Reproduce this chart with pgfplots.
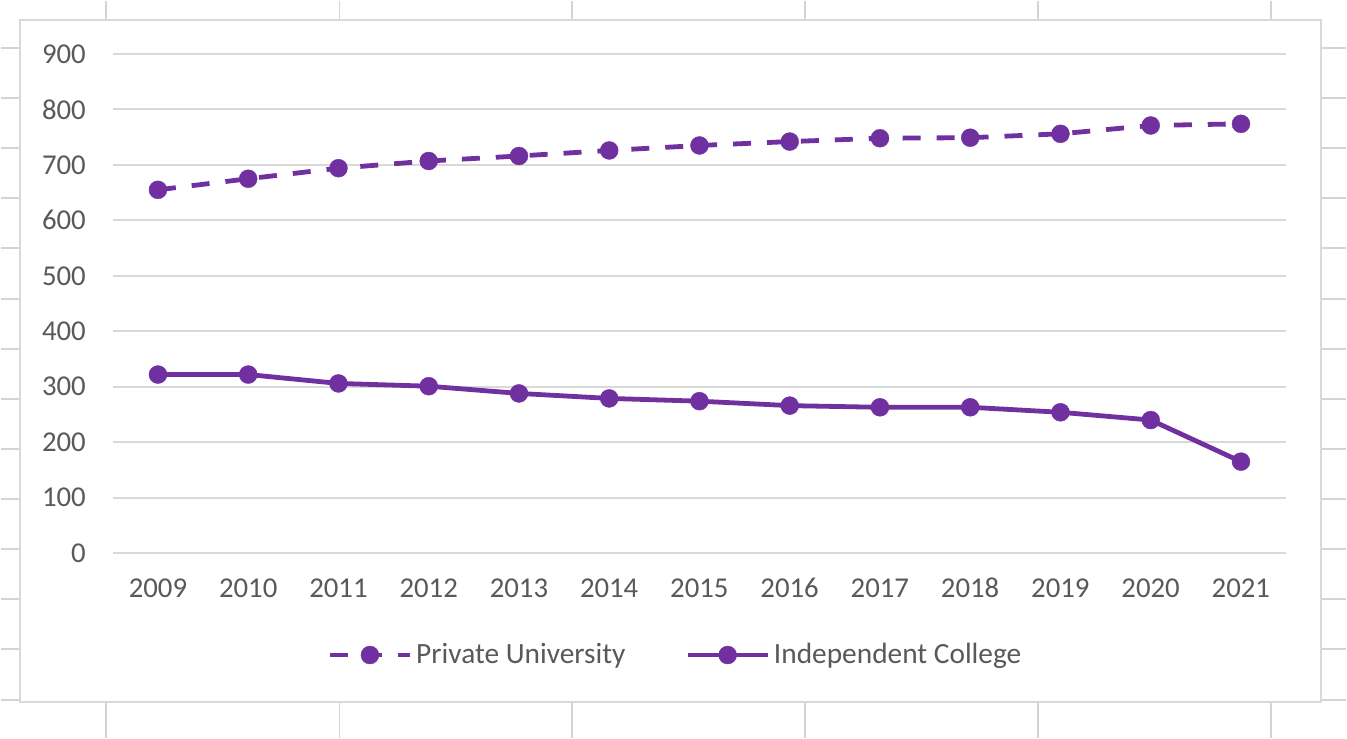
\documentclass[border=0pt]{standalone}
\usepackage{fontspec}
\setmainfont{Carlito}
\usepackage{pgfplots}
\pgfplotsset{compat=1.18}
\definecolor{uvpurple}{HTML}{7030A0}
\definecolor{gridgray}{HTML}{D9D9D9}
\definecolor{cellgray}{HTML}{D4D4D4}
\definecolor{labelgray}{HTML}{595959}
\begin{document}
\begin{tikzpicture}
% page: 1347x738 px at 0.5pt per px
\fill[white] (0,0) rectangle (673.5pt,369pt);
% spreadsheet cell lines around the chart
\foreach \x in {52.5,169.5,286,402.5,519.5,636}{
  \draw[cellgray, line width=1pt] (\x pt,359.5pt) -- (\x pt,369pt);
  \draw[cellgray, line width=1pt] (\x pt,0pt) -- (\x pt,18pt);
}
\foreach \k in {0,...,13}{
  \pgfmathsetmacro{\yy}{369-23.5-25.1*\k}
  \draw[cellgray, line width=1pt] (0pt,\yy pt) -- (9.5pt,\yy pt);
  \draw[cellgray, line width=1pt] (661pt,\yy pt) -- (673.5pt,\yy pt);
}
% chart frame
\draw[gridgray, line width=1pt, fill=white] (9.5pt,18pt) rectangle (661pt,359.5pt);

\begin{axis}[
    at={(56pt,92.5pt)}, anchor=south west,
    scale only axis,
    width=587.5pt, height=250pt,
    xmin=2008.5, xmax=2021.5,
    ymin=0, ymax=900,
    xtick={2009,...,2021},
    ytick={0,100,...,900},
    xticklabel style={/pgf/number format/1000 sep={}, yshift=-9.8pt,
        text height=9pt, text depth=0pt},
    yticklabel style={xshift=-10pt},
    /pgf/number format/assume math mode=true,
    ticklabel style={font=\fontsize{14.4}{16}\selectfont, text=labelgray},
    major tick length=0pt,
    axis line style={draw=none},
    ymajorgrids,
    grid style={gridgray, line width=1pt},
    legend columns=2,
    legend style={
        at={(0.4804,-0.204)}, anchor=center,
        draw=none, fill=none,
        font=\fontsize{14.7}{16}\selectfont, text=labelgray,
        /tikz/every even column/.append style={column sep=28pt},
    },
    legend image code/.code={
        \draw[mark repeat=2, mark phase=2, #1]
            plot coordinates {(0pt,0pt) (20pt,0pt) (40pt,0pt)};
    },
]
\addplot[uvpurple, line width=2.4pt, dash pattern=on 9pt off 8pt,
    mark=*, mark size=4.5pt, mark options={solid, fill=uvpurple, draw=uvpurple, line width=0.2pt}]
coordinates {
    (2009,655) (2010,675) (2011,694) (2012,707) (2013,716) (2014,726) (2015,735)
    (2016,742) (2017,748) (2018,749) (2019,756) (2020,771) (2021,774)
};
\addlegendentry{Private University}
\addplot[uvpurple, line width=2.4pt,
    mark=*, mark size=4.5pt, mark options={solid, fill=uvpurple, draw=uvpurple, line width=0.2pt}]
coordinates {
    (2009,322) (2010,322) (2011,306) (2012,301) (2013,288) (2014,279) (2015,274)
    (2016,266) (2017,263) (2018,263) (2019,254) (2020,240) (2021,165)
};
\addlegendentry{Independent College}
\end{axis}
\end{tikzpicture}
\end{document}
